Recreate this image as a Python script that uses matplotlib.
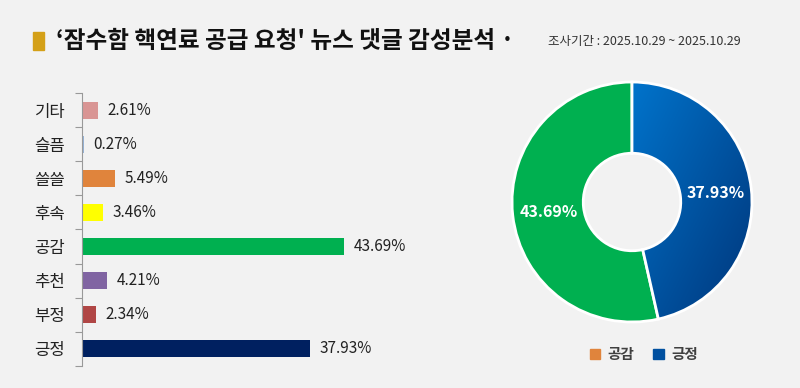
import matplotlib
matplotlib.use('Agg')
import matplotlib.pyplot as plt
import numpy as np
from matplotlib.patches import Rectangle

plt.rcParams['font.family'] = ['Noto Sans CJK KR', 'DejaVu Sans']

# 막대 그래프 데이터 (위에서 아래 순서)
categories = ['기타', '슬픔', '쓸쓸', '후속', '공감', '추천', '부정', '긍정']
values = [2.61, 0.27, 5.49, 3.46, 43.69, 4.21, 2.34, 37.93]
bar_colors = ['#d99594', '#95b3d7', '#e0843c', '#ffff00', '#00b050', '#8064a2', '#b04645', '#002060']

# 도넛 데이터
pie_labels = ['긍정', '공감']
pie_values = [37.93, 43.69]
legend_colors = ['#e0843c', '#0050a0']

BG = '#f2f2f2'

fig = plt.figure(figsize=(8, 3.88), dpi=100, facecolor=BG)

# 제목
fig.patches.append(Rectangle((33 / 800, 1 - 50 / 388), 11 / 800, 18 / 388,
                             transform=fig.transFigure, color='#d4a017', zorder=3))
fig.text(56 / 800, 1 - 41 / 388, "‘잠수함 핵연료 공급 요청' 뉴스 댓글 감성분석 ·",
         fontsize=17, fontweight='bold', color='#111111', va='center')
fig.text(548 / 800, 1 - 41 / 388, '조사기간 : 2025.10.29 ~ 2025.10.29',
         fontsize=9, color='#333333', va='center')

# 막대 그래프
ax = fig.add_axes([82 / 800, 22 / 388, 300 / 800, 273 / 388], facecolor=BG)
y = np.arange(len(categories))
ax.barh(y, values, height=0.5, color=bar_colors)
ax.set_ylim(len(categories) - 0.5, -0.5)
ax.set_xlim(0, 50)
for yi, v in zip(y, values):
    ax.text(v + 1.6, yi, f'{v:.2f}%', va='center', ha='left', fontsize=11, color='#222222')

ax.set_yticks(np.arange(-0.5, len(categories) + 0.5, 1))
ax.set_yticklabels([])
ax.set_yticks(y, minor=True)
ax.set_yticklabels(categories, minor=True, fontsize=12, color='#222222')
ax.tick_params(axis='y', which='major', length=5, color='#999999')
ax.tick_params(axis='y', which='minor', length=0, pad=12)
ax.set_xticks([])
for s in ['top', 'right', 'bottom']:
    ax.spines[s].set_visible(False)
ax.spines['left'].set_color('#999999')

# 도넛 그래프
ax2 = fig.add_axes([507 / 800, 61 / 388, 250 / 800, 250 / 388], facecolor=BG)
wedges, _ = ax2.pie(pie_values, colors=['#0060b0', '#00b050'], startangle=90,
                    counterclock=False, radius=0.96,
                    wedgeprops=dict(width=0.57, edgecolor='white', linewidth=2))
ax2.set_xlim(-1, 1)
ax2.set_ylim(-1, 1)
ax2.set_aspect('equal')

# 파란 조각에 그라데이션 (왼쪽 위 밝게, 오른쪽 아래 어둡게)
gx, gy = np.meshgrid(np.linspace(0, 1, 200), np.linspace(0, 1, 200))
grad = (gx + gy) / 2
img = ax2.imshow(grad, extent=[0, 1, -1, 1], origin='upper',
                 cmap=matplotlib.colors.LinearSegmentedColormap.from_list('b', ['#0074cc', '#003478']),
                 zorder=2, aspect='auto')
img.set_clip_path(wedges[0])
wedges[0].set_facecolor('none')
wedges[0].set_zorder(3)

ax2.text(0.67, 0.07, '37.93%', color='white', fontsize=11.5, fontweight='bold',
         ha='center', va='center', zorder=4)
ax2.text(-0.67, -0.08, '43.69%', color='white', fontsize=11.5, fontweight='bold',
         ha='center', va='center', zorder=4)
ax2.axis('off')

# 범례
handles = [Rectangle((0, 0), 1, 1, color=c) for c in legend_colors]
fig.legend(handles, ['공감', '긍정'], loc='center', bbox_to_anchor=(644 / 800, 1 - 354 / 388),
           ncol=2, frameon=False, fontsize=10.5, handlelength=0.7, handleheight=0.7,
           columnspacing=1.3, handletextpad=0.5, labelcolor='#404040',
           prop={'weight': 'bold', 'size': 10.5})

fig.savefig('out.png', dpi=100, facecolor=BG)
